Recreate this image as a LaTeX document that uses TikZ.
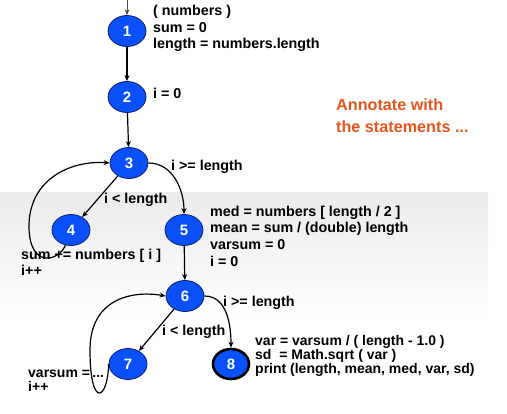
\documentclass[tikz,border=0pt]{standalone}
\usepackage{fontspec}
\setmainfont{Liberation Sans}
\usetikzlibrary{shapes.geometric,arrows.meta}
\definecolor{nodeblue}{RGB}{10,80,250}
\definecolor{nodeedge}{RGB}{10,30,110}
\definecolor{annot}{RGB}{232,84,30}
\tikzset{
  cfgnode/.style={ellipse,fill=nodeblue,draw=nodeedge,line width=0.8pt,minimum width=38pt,minimum height=31pt,inner sep=0pt,text=white,font=\fontsize{15}{16}\selectfont\bfseries},
  endnode/.style={cfgnode,draw=black,line width=2.6pt,minimum width=36pt,minimum height=30pt},
  edge/.style={line width=1.2pt,-{Stealth[length=6pt,width=5pt]}},
  lbl/.style={anchor=west,inner sep=0pt,align=left,font=\fontsize{14.3}{16.6}\selectfont\bfseries},
  lblt/.style={lbl,font=\fontsize{14}{14}\selectfont\bfseries},
}
\begin{document}
\begin{tikzpicture}[x=1pt,y=-1pt]
\useasboundingbox (0,0) rectangle (507,414);
\shade[top color=black!8,bottom color=white] (0,193) rectangle (488,318);
% nodes
\node[cfgnode] (n1) at (127,31) {1};
\node[cfgnode] (n2) at (127,97) {2};
\node[cfgnode] (n3) at (129,163) {3};
\node[cfgnode] (n4) at (71,230) {4};
\node[cfgnode] (n5) at (184,230) {5};
\node[cfgnode] (n6) at (185,296) {6};
\node[cfgnode] (n7) at (128,364) {7};
\node[endnode] (n8) at (231,364) {8};
\coordinate (start) at (127,0);
% labels
\node[lbl] (t1) at (153,28.5) {( numbers )\\sum = 0\\length = numbers.length};
\node[lbl] (t2) at (153,93) {i = 0};
\node[lbl] (t3a) at (171,167) {i >= length};
\node[lbl] (t3b) at (104,200) {i < length};
\node[lbl] (t5) at (210,236) {med = numbers [ length / 2 ]\\mean = sum / (double) length\\varsum = 0\\i = 0};
\node[lbl] (t4) at (21,262.5) {sum += numbers [ i ]\\i++};
\node[lbl] (t6a) at (223,303) {i >= length};
\node[lbl] (t6b) at (162,332) {i < length};
\node[lblt] (t8) at (255,356) {var = varsum / ( length - 1.0 )\\sd\ \ = Math.sqrt ( var )\\print (length, mean, med, var, sd)};
\node[lblt] (t7) at (28,380.5) {varsum =\,...\\i++};
\node[lbl,text=annot,font=\fontsize{16.2}{22}\selectfont\bfseries] (ann) at (336,116) {Annotate with\\the statements ...};
% edges
\draw[edge,line width=0.8pt,draw=black!70] (start) -- (n1.north);
\draw[edge] (n1) -- (n2);
\draw[edge] (n2) -- (n3);
\draw[edge] (n3) -- (n4);
\draw[edge] (n3.east) to[out=0,in=90] (n5.north);
\draw[edge] (n4.250) .. controls (58,262) and (30,268) .. (29,228) .. controls (28,180) and (70,160) .. (n3.west);
\draw[edge] (n5) -- (n6);
\draw[edge] (n6) -- (n7);
\draw[edge] (n6.east) to[out=0,in=90] (n8.north);
\draw[edge] (n7.west) .. controls (108,400) and (90,410) .. (90,350) .. controls (90,300) and (130,290) .. (n6.west);
\end{tikzpicture}
\end{document}
